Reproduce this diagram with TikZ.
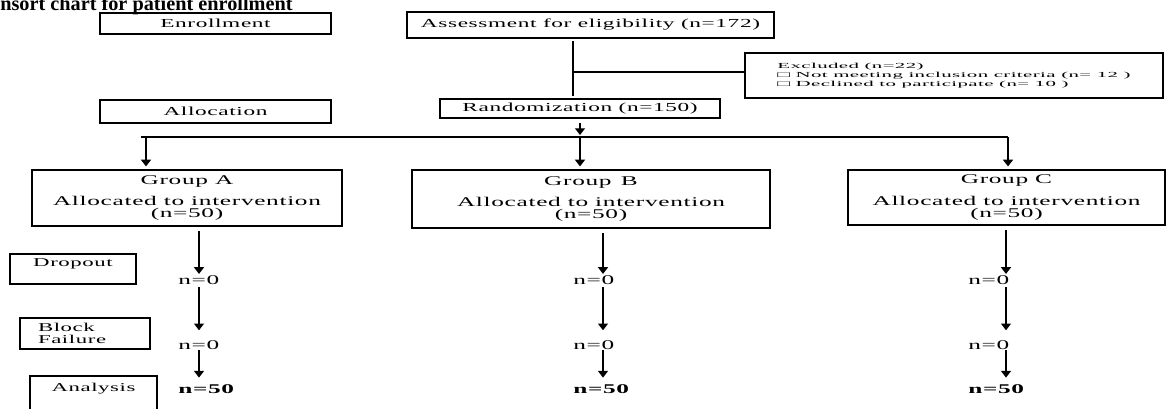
\documentclass[tikz,border=0pt]{standalone}
\usepackage{fontspec}
\setmainfont{Liberation Serif}
\newfontfamily\wide[FakeStretch=1.9,LetterSpace=5]{Liberation Serif}
\newfontfamily\widesmall[FakeStretch=2.7,LetterSpace=5]{Liberation Serif}
\usetikzlibrary{arrows.meta,positioning}

\begin{document}
\begin{tikzpicture}[
    x=0.75pt, y=-0.75pt,
    box/.style={
        draw,
        line width=1.4pt,
        inner sep=0pt,
        font=\wide\fontsize{9.2}{10}\selectfont
    },
    grpbox/.style={
        box,
        align=center,
        font=\wide\fontsize{10}{9}\selectfont
    },
    stage/.style={
        box,
        font=\wide\fontsize{9}{9}\selectfont
    },
    tally/.style={
        anchor=west,
        inner sep=0pt,
        font=\wide\fontsize{10}{12}\selectfont
    },
    link/.style={line width=0.8pt},
    >={Triangle[length=5pt,width=7.5pt]}
    ]
\useasboundingbox (0,0) rectangle (1166,408);

\node[anchor=base west, inner sep=0pt, font=\bfseries\fontsize{15.2}{18}\selectfont] (title) at (0,10.5) {nsort chart for patient enrollment};

% stage labels on the left
\node[box, minimum width=173.25pt, minimum height=15.75pt] (enroll) at (215.5,23.5) {Enrollment};
\node[box, minimum width=173.25pt, minimum height=17.25pt] (alloc) at (215.5,111.5) {Allocation};
\node[stage, minimum width=94.5pt, text height=9.4pt, text depth=13.1pt] (drop) at (73,269) {Dropout};
\node[stage, minimum width=97.5pt, minimum height=23.25pt, inner xsep=13.5pt, text width=70.5pt, align=left] (block) at (85,333.5) {Block\\Failure};
\node[stage, minimum width=95.25pt, text height=11.25pt, text depth=15.75pt] (anal) at (93.5,394) {Analysis};

% main flow
\node[box, minimum width=275.25pt, minimum height=19.5pt] (assess) at (590.5,25) {Assessment for eligibility (n=172)};
\node[box, minimum width=313.5pt, minimum height=33.75pt, align=left,
    font=\widesmall\fontsize{5.8}{6.75}\selectfont] (excl) at (954,75.5)
    {Excluded (n=22)\\□ Not meeting inclusion criteria (n= 12 )\\□ Declined to participate (n= 10 )};
\node[box, minimum width=210pt, minimum height=14.25pt] (rand) at (580,108.5) {Randomization (n=150)};

\node[grpbox, minimum width=232.5pt, minimum height=42pt] (grpA) at (187,198) {Group A\\[6pt]Allocated to intervention\\(n=50)};
\node[grpbox, minimum width=268.5pt, minimum height=43.5pt] (grpB) at (591,199) {Group\, B\\[6pt]Allocated to intervention\\(n=50)};
\node[grpbox, minimum width=237.75pt, minimum height=41.25pt] (grpC) at (1006.5,197.5) {Group C\\[6pt]Allocated to intervention\\(n=50)};

\foreach \col/\lx in {A/178,B/573,C/968}
{
    \node[tally] (out\col) at (\lx,280) {n=0};
    \node[tally] (fail\col) at (\lx,345) {n=0};
    \node[tally, font=\wide\bfseries\fontsize{10}{12}\selectfont] (end\col) at (\lx,389) {n=50};
}

\coordinate (jn) at (573,72);
\draw[link, shorten <=1.5pt, shorten >=1.5pt] (jn |- assess.south) -- (jn |- rand.north);
\draw[link] (jn) -- (jn -| excl.west);

\coordinate (sA) at (146,137);
\coordinate (sB) at (580,137);
\coordinate (sC) at (1008,137);
\draw[link, ->, shorten <=3pt, shorten >=1.5pt] (rand.south) -- (rand.south |- sB);
\draw[link, shorten <=-4pt] (sA) -- (sC);
\foreach \col in {A,B,C}
\draw[link, ->, shorten >=2pt] (s\col) -- (s\col |- grp\col.north);

\foreach \col/\ax in {A/199,B/603,C/1006}
{
    \coordinate (ax\col) at (\ax,0);
    \draw[link, ->, shorten <=3pt, shorten >=1pt] (ax\col |- grp\col.south) -- (ax\col |- out\col.north);
    \draw[link, ->, shorten <=2pt, shorten >=7.5pt] (ax\col |- out\col.south) -- (ax\col |- fail\col.north);
    \draw[link, ->, shorten <=0.5pt, shorten >=5pt] (ax\col |- fail\col.south) -- (ax\col |- end\col.north);
}
\end{tikzpicture}
\end{document}
